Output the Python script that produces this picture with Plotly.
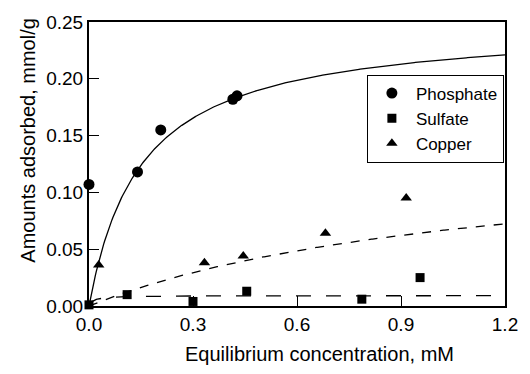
import numpy as np
import plotly.graph_objects as go

# Measured points
phos_x = [0.0, 0.140, 0.207, 0.415, 0.427]
phos_y = [0.107, 0.118, 0.155, 0.182, 0.185]
sulf_x = [0.0, 0.110, 0.300, 0.455, 0.787, 0.955]
sulf_y = [0.001, 0.010, 0.004, 0.013, 0.006, 0.025]
copp_x = [0.028, 0.333, 0.445, 0.682, 0.915]
copp_y = [0.036, 0.038, 0.044, 0.064, 0.095]

# Langmuir fit parameters (Qmax, K)
phos_fit = (0.2488, 6.62)
sulf_fit = (0.0092, 80.0)
copp_fit = (0.141, 0.878)

x_ticks = [0.0, 0.3, 0.6, 0.9, 1.2]
y_ticks = [0.0, 0.05, 0.10, 0.15, 0.20, 0.25]

xc = np.linspace(0, 1.2, 400)
def lang(p):
    q, k = p
    return q * k * xc / (1 + k * xc)

fig = go.Figure()
fig.add_trace(go.Scatter(x=xc, y=lang(phos_fit), mode="lines", line=dict(color="black", width=1.3), showlegend=False))
fig.add_trace(go.Scatter(x=xc, y=lang(copp_fit), mode="lines", line=dict(color="black", width=1.3, dash="dash"), showlegend=False))
fig.add_trace(go.Scatter(x=xc, y=lang(sulf_fit), mode="lines", line=dict(color="black", width=1.3, dash="longdash"), showlegend=False))

fig.add_trace(go.Scatter(x=phos_x, y=phos_y, mode="markers", name="Phosphate",
                         marker=dict(symbol="circle", size=11, color="black"), cliponaxis=False))
fig.add_trace(go.Scatter(x=sulf_x, y=sulf_y, mode="markers", name="Sulfate",
                         marker=dict(symbol="square", size=9, color="black"), cliponaxis=False))
fig.add_trace(go.Scatter(x=copp_x, y=copp_y, mode="markers", name="Copper",
                         marker=dict(symbol="triangle-up", size=10, color="black"), cliponaxis=False))

font = "Liberation Sans, Arial, sans-serif"
fig.update_layout(
    width=530, height=374,
    margin=dict(l=89, r=19, t=15, b=68),
    paper_bgcolor="white", plot_bgcolor="white",
    font=dict(family=font, size=17, color="black"),
    legend=dict(x=0.668, y=0.815, xanchor="left", yanchor="top",
                bordercolor="black", borderwidth=1, bgcolor="white",
                font=dict(size=17), itemwidth=38, tracegroupgap=0),
    xaxis=dict(range=[0, 1.2], tickvals=x_ticks, ticktext=[f"{v:.1f}" for v in x_ticks],
               ticks="inside", ticklen=10, tickwidth=1.2, tickcolor="black",
               showline=True, linecolor="black", linewidth=2, mirror=True,
               showgrid=False, zeroline=False,
               tickfont=dict(size=19)),
    yaxis=dict(range=[0, 0.25], tickvals=y_ticks, ticktext=[f"{v:.2f}" for v in y_ticks],
               ticks="inside", ticklen=10, tickwidth=1.2, tickcolor="black",
               showline=True, linecolor="black", linewidth=2, mirror=True,
               showgrid=False, zeroline=False,
               tickfont=dict(size=19)),
    annotations=[
        dict(text="Equilibrium concentration, mM", xref="paper", yref="paper",
             x=0.5545, y=-0.168, xanchor="center", yanchor="middle",
             showarrow=False, font=dict(size=20)),
        dict(text="Amounts adsorbed, mmol/g", xref="paper", yref="paper",
             x=-0.147, y=0.585, xanchor="center", yanchor="middle", textangle=-90,
             showarrow=False, font=dict(size=20)),
    ],
)
fig.write_html("out.html")
